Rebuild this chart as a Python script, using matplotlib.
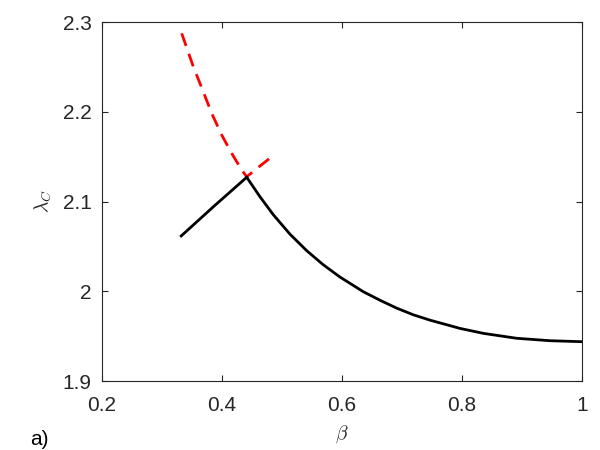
import matplotlib
matplotlib.use("Agg")
import matplotlib.pyplot as plt

# values
beta_red = [0.3328, 0.3522, 0.3688, 0.3828, 0.3995, 0.4162, 0.4328, 0.4412, 0.462, 0.4828, 0.486]
lam_red = [2.2874, 2.2502, 2.2223, 2.1983, 2.1741, 2.1537, 2.1351, 2.1276, 2.1388, 2.1499, 2.152]

beta_rise = [0.332, 0.387, 0.4412]
lam_rise = [2.0616, 2.0950, 2.1270]

beta_fall = [0.4412, 0.4633, 0.4855, 0.5133, 0.5412, 0.5688, 0.5967, 0.6355, 0.6633,
             0.6912, 0.7188, 0.7467, 0.7745, 0.7967, 0.8355, 0.8912, 0.9467, 1.0]
lam_fall = [2.1270, 2.1053, 2.0853, 2.0636, 2.0452, 2.0295, 2.0158, 1.9995, 1.9900,
            1.9812, 1.9738, 1.9678, 1.9627, 1.9586, 1.9531, 1.9476, 1.9449, 1.9438]

plt.rcParams['font.family'] = ['Liberation Sans', 'DejaVu Sans']
plt.rcParams['mathtext.fontset'] = 'cm'

fig = plt.figure(figsize=(6, 4.5), dpi=100)
ax = fig.add_axes([0.17, 0.1533, 0.80, 0.7978])

ax.plot(beta_red, lam_red, color='red', lw=2.0, dashes=(4.8, 3.0))
ax.plot(beta_rise, lam_rise, color='black', lw=2.0, solid_joinstyle='round')
ax.plot(beta_fall, lam_fall, color='black', lw=2.0, solid_joinstyle='round')

ax.set_xlim(0.2, 1.0)
ax.set_ylim(1.9, 2.3)
ax.set_xticks([0.2, 0.4, 0.6, 0.8, 1.0])
ax.set_xticklabels(['0.2', '0.4', '0.6', '0.8', '1'])
ax.set_yticks([1.9, 2.0, 2.1, 2.2, 2.3])
ax.set_yticklabels(['1.9', '2', '2.1', '2.2', '2.3'])

grey = '#262626'
for s in ax.spines.values():
    s.set_color(grey)
    s.set_linewidth(0.8)
ax.tick_params(direction='in', top=True, right=True, length=4, width=0.8,
               colors=grey, labelsize=15)
ax.tick_params(axis='x', pad=11)
ax.tick_params(axis='y', pad=7.5)

ax.set_xlabel(r'$\beta$', fontsize=14, color=grey, labelpad=6)
ax.set_ylabel(r'$\lambda_C$', fontsize=14, color=grey, labelpad=6)
fig.text(0.05, 0.012, 'a)', fontsize=15, color='black')

fig.savefig('out.png', dpi=100)
